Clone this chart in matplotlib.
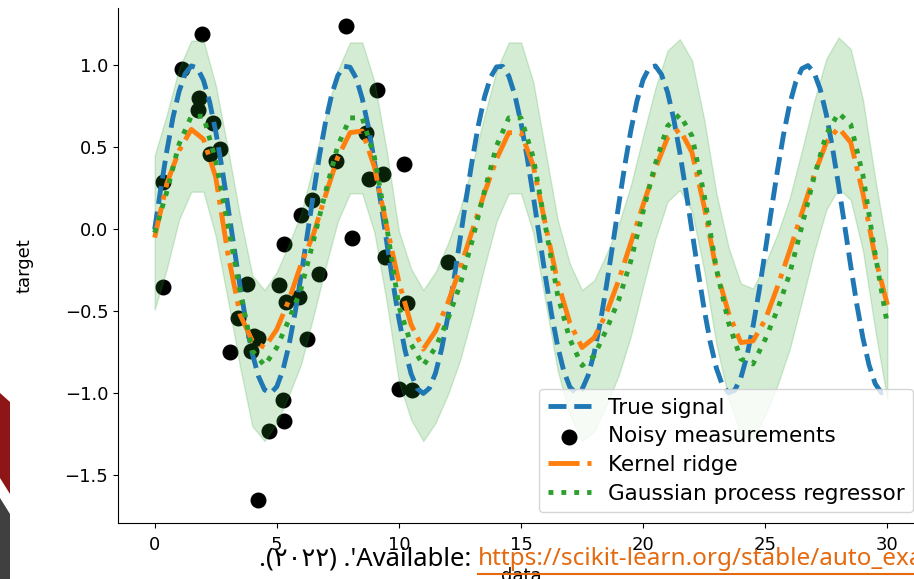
import numpy as np
import matplotlib.pyplot as plt
from matplotlib.patches import Polygon
from matplotlib.lines import Line2D

signal_x = np.arange(0, 30.01, 0.25)
data = np.arange(0, 30.01, 0.5)

true_signal = [0.000, 0.247, 0.479, 0.682, 0.841, 0.949, 0.997, 0.984, 0.909, 0.778,
               0.598, 0.382, 0.141, -0.108, -0.351, -0.572, -0.757, -0.895, -0.978, -0.999,
               -0.959, -0.859, -0.706, -0.508, -0.279, -0.033, 0.215, 0.451, 0.657, 0.823,
               0.938, 0.995, 0.989, 0.923, 0.798, 0.625, 0.412, 0.174, -0.075, -0.319,
               -0.544, -0.735, -0.880, -0.970, -1.000, -0.968, -0.876, -0.729, -0.537, -0.310,
               -0.066, 0.182, 0.420, 0.632, 0.804, 0.926, 0.991, 0.994, 0.935, 0.818,
               0.650, 0.441, 0.206, -0.042, -0.288, -0.516, -0.712, -0.863, -0.961, -0.999,
               -0.975, -0.890, -0.751, -0.564, -0.342, -0.099, 0.150, 0.390, 0.605, 0.784,
               0.913, 0.986, 0.997, 0.945, 0.837, 0.675, 0.471, 0.238, -0.009, -0.256,
               -0.487, -0.689, -0.846, -0.952, -0.997, -0.981, -0.906, -0.772, -0.591, -0.374,
               -0.132, 0.117, 0.359, 0.579, 0.763, 0.899, 0.980, 0.999, 0.956, 0.855,
               0.701, 0.501, 0.271, 0.025, -0.223, -0.458, -0.663, -0.827, -0.940, -0.996,
               -0.988]

kernel_ridge = [-0.05, 0.28, 0.48, 0.61, 0.55, 0.32, -0.15, -0.52, -0.68, -0.72,
                -0.61, -0.43, -0.21, -0.03, 0.21, 0.44, 0.59, 0.60, 0.38, 0.02,
                -0.32, -0.58, -0.73, -0.62, -0.45, -0.24, -0.01, 0.22, 0.43, 0.59,
                0.59, 0.39, 0.03, -0.32, -0.57, -0.72, -0.66, -0.51, -0.31, -0.08,
                0.15, 0.37, 0.56, 0.61, 0.47, 0.14, -0.25, -0.51, -0.69, -0.68,
                -0.55, -0.35, -0.13, 0.10, 0.33, 0.53, 0.62, 0.53, 0.22, -0.17,
                -0.46]

gpr_mean = [-0.02, 0.23, 0.52, 0.69, 0.69, 0.42, 0.03, -0.38, -0.74, -0.83,
            -0.72, -0.55, -0.36, -0.07, 0.23, 0.51, 0.68, 0.68, 0.44, 0.02,
            -0.47, -0.70, -0.83, -0.72, -0.55, -0.34, -0.07, 0.23, 0.51, 0.68,
            0.68, 0.44, 0.02, -0.40, -0.67, -0.83, -0.77, -0.61, -0.43, -0.19,
            0.11, 0.40, 0.63, 0.70, 0.57, 0.21, -0.24, -0.57, -0.79, -0.82,
            -0.67, -0.49, -0.27, 0.02, 0.32, 0.58, 0.71, 0.64, 0.33, -0.15,
            -0.58]

gpr_std = [0.47, 0.47, 0.46, 0.46, 0.46, 0.46, 0.46, 0.46, 0.46, 0.46,
           0.46, 0.46, 0.46, 0.46, 0.46, 0.46, 0.46, 0.46, 0.46, 0.46,
           0.46, 0.46, 0.46, 0.46, 0.46, 0.46, 0.46, 0.46, 0.46, 0.46,
           0.46, 0.46, 0.46, 0.46, 0.46, 0.46, 0.46, 0.46, 0.46, 0.46,
           0.46, 0.46, 0.46, 0.46, 0.46, 0.46, 0.46, 0.46, 0.46, 0.46,
           0.46, 0.46, 0.46, 0.46, 0.46, 0.46, 0.46, 0.46, 0.46, 0.46,
           0.46]

train_x = [0.33, 0.33, 1.11, 1.93, 1.80, 1.76, 2.38, 2.25, 2.66, 3.07,
           3.40, 3.77, 3.93, 4.08, 4.25, 4.22, 4.67, 5.25, 5.29, 5.08,
           5.29, 5.37, 5.90, 5.98, 6.43, 6.23, 6.72, 7.42, 7.83, 8.07,
           8.65, 8.77, 9.34, 9.10, 9.43, 10.20, 10.00, 10.53, 10.33, 12.00]
train_y = [-0.35, 0.29, 0.98, 1.19, 0.80, 0.73, 0.65, 0.46, 0.49, -0.75,
           -0.54, -0.33, -0.74, -0.65, -0.66, -1.65, -1.23, -1.04, -1.17, -0.34,
           -0.09, -0.44, -0.41, 0.09, 0.18, -0.67, -0.27, 0.42, 1.24, -0.05,
           0.59, 0.31, 0.34, 0.85, -0.17, 0.40, -0.97, -0.98, -0.45, -0.20]

W, H = 914, 579
fig = plt.figure(figsize=(W / 100, H / 100), dpi=100)

# slide decoration on the left edge
red = Polygon([(0, 1 - 393 / H), (10 / W, 1 - 402 / H), (10 / W, 1 - 494 / H), (0, 1 - 478 / H)],
              closed=True, transform=fig.transFigure, color="#8e1616", lw=0)
grey = Polygon([(0, 1 - 498 / H), (10 / W, 1 - 514 / H), (10 / W, 0), (0, 0)],
               closed=True, transform=fig.transFigure, color="#404040", lw=0)
fig.patches.extend([red, grey])

ax = fig.add_axes([118 / W, 56 / H, 806 / W, 515 / H])

ax.plot(signal_x, true_signal, label="True signal", linewidth=3.5, linestyle="dashed")
ax.scatter(train_x, train_y, color="black", s=110, label="Noisy measurements")
ax.plot(data, kernel_ridge, label="Kernel ridge", linewidth=3.5, linestyle="dashdot")
ax.plot(data, gpr_mean, label="Gaussian process regressor", linewidth=3.5, linestyle="dotted")
lower = np.array(gpr_mean) - np.array(gpr_std)
upper = np.array(gpr_mean) + np.array(gpr_std)
ax.fill_between(data, lower, upper, color="tab:green", alpha=0.2)

ax.set_xlim(-1.5, 31.5)
ax.set_ylim(-1.79, 1.35)
ax.spines["top"].set_visible(False)
ax.tick_params(labelsize=13)
ax.tick_params(axis="x", pad=6)
ax.legend(loc="lower right", fontsize=15.5, labelspacing=0.4)
ax.set_xlabel("data", fontsize=13, labelpad=9)
ax.set_ylabel("target", fontsize=13)
ax.yaxis.set_label_coords(-0.105, 0.5)

# citation text of the slide, lying over the chart
fam = ["Noto Sans", "DejaVu Sans"]
t1 = fig.text(471 / W, 1 - 565 / H, ".(٢٠٢٢) .'Available:", family=fam, fontsize=18.5,
              color="black", va="baseline", ha="right")
t2 = fig.text(478 / W, 1 - 565 / H,
              "https://scikit-learn.org/stable/auto_examples/gaussian_process/plot_compare_gpr_krr.html",
              family=fam, fontsize=17.5, color="#e4690f", va="baseline")
fig.canvas.draw()
b2 = t2.get_window_extent(fig.canvas.get_renderer())
uy = 1 - 574 / H
fig.lines.append(Line2D([b2.x0 / W, b2.x1 / W], [uy, uy], transform=fig.transFigure,
                        color="#e4690f", lw=1.5))

fig.savefig("out.png", dpi=100)
